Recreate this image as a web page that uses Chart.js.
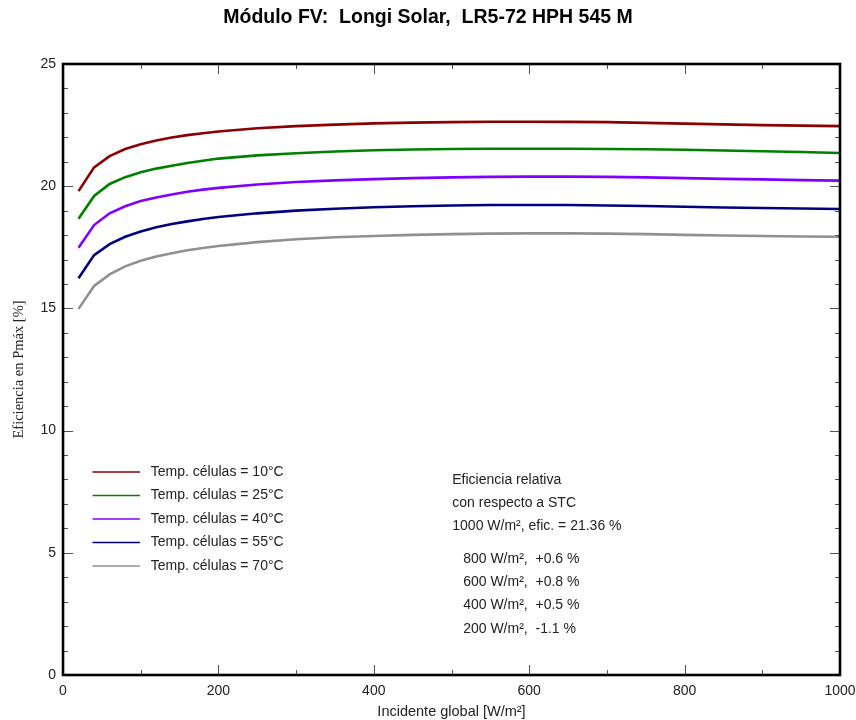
<!DOCTYPE html>
<html>
<head>
<meta charset="utf-8">
<script src="https://cdn.jsdelivr.net/npm/chart.js@4"></script>
<style>
  html, body { margin: 0; padding: 0; background: #fff; }
  #wrap { width: 856px; height: 720px; position: relative; }
</style>
</head>
<body>
<div id="wrap"><canvas id="c" width="856" height="720"></canvas></div>
<script>
// Irradiance (W/m²) at which module efficiency was computed
const irradiance = [20, 40, 60, 80, 100, 120, 140, 160, 180, 200, 250, 300, 350, 400, 450, 500,
                    550, 600, 650, 700, 750, 800, 850, 900, 950, 1000];

// Efficiency at Pmax (%) for each cell temperature
const eff10 = [19.80, 20.77, 21.23, 21.52, 21.72, 21.87, 21.99, 22.09, 22.17, 22.24, 22.37, 22.46, 22.52,
               22.57, 22.60, 22.62, 22.64, 22.64, 22.63, 22.62, 22.59, 22.56, 22.53, 22.50, 22.48, 22.46];
const eff25 = [18.67, 19.60, 20.09, 20.37, 20.57, 20.72, 20.84, 20.95, 21.04, 21.13, 21.26, 21.35, 21.42,
               21.47, 21.50, 21.52, 21.53, 21.53, 21.53, 21.52, 21.51, 21.49, 21.46, 21.43, 21.40, 21.36];
const eff40 = [17.48, 18.41, 18.89, 19.18, 19.39, 19.54, 19.66, 19.77, 19.86, 19.93, 20.07, 20.17, 20.24,
               20.29, 20.33, 20.36, 20.38, 20.39, 20.39, 20.38, 20.36, 20.33, 20.30, 20.28, 20.25, 20.23];
const eff55 = [16.23, 17.18, 17.63, 17.93, 18.15, 18.32, 18.45, 18.56, 18.66, 18.74, 18.89, 19.00, 19.08,
               19.14, 19.18, 19.21, 19.23, 19.23, 19.23, 19.21, 19.19, 19.16, 19.13, 19.11, 19.09, 19.07];
const eff70 = [14.98, 15.92, 16.39, 16.72, 16.95, 17.12, 17.26, 17.38, 17.47, 17.55, 17.71, 17.83, 17.91,
               17.96, 18.01, 18.04, 18.06, 18.07, 18.07, 18.06, 18.04, 18.01, 17.98, 17.96, 17.94, 17.93];

const cellTemps = [10, 25, 40, 55, 70];
const seriesColors = ['#8b0000', '#008000', '#8000ff', '#000080', '#909090'];

// Relative efficiency vs. STC
const stcIrradiance = 1000;
const stcEfficiency = '21.36';
const relIrradiance = [800, 600, 400, 200];
const relChange = ['+0.6', '+0.8', '+0.5', '-1.1'];

const FONT = '"Liberation Sans", Arial, sans-serif';
const SERIF = '"Liberation Serif", "Times New Roman", serif';

const allSeries = [eff10, eff25, eff40, eff55, eff70];
const datasets = allSeries.map((vals, i) => ({
  label: 'Temp. células = ' + cellTemps[i] + '°C',
  data: irradiance.map((x, j) => ({ x: x, y: vals[j] })),
  borderColor: seriesColors[i],
  backgroundColor: seriesColors[i],
  borderWidth: 2.6,
  pointRadius: 0,
  tension: 0,
  fill: false
}));

// Frame, inward tick marks, title, legend and note box
const decorations = {
  id: 'decorations',
  afterDraw(chart) {
    const ctx = chart.ctx;
    const a = chart.chartArea;
    const xs = chart.scales.x, ys = chart.scales.y;
    ctx.save();

    // inward tick marks on all four sides
    ctx.strokeStyle = '#555';
    ctx.lineWidth = 1;
    ctx.beginPath();
    for (let v = 0; v <= 1000; v += 100) {
      const px = Math.round(xs.getPixelForValue(v)) + 0.5;
      const len = (v % 200 === 0) ? 10 : 5;
      ctx.moveTo(px, a.bottom); ctx.lineTo(px, a.bottom - len);
      ctx.moveTo(px, a.top); ctx.lineTo(px, a.top + len);
    }
    for (let v = 0; v <= 25; v += 1) {
      const py = Math.round(ys.getPixelForValue(v)) + 0.5;
      const len = (v % 5 === 0) ? 10 : 5;
      ctx.moveTo(a.left, py); ctx.lineTo(a.left + len, py);
      ctx.moveTo(a.right, py); ctx.lineTo(a.right - len, py);
    }
    ctx.stroke();

    // frame
    ctx.strokeStyle = '#000';
    ctx.lineWidth = 2.6;
    ctx.strokeRect(a.left, a.top, a.right - a.left, a.bottom - a.top);

    // title
    ctx.fillStyle = '#000';
    ctx.font = 'bold 19.5px ' + FONT;
    ctx.textAlign = 'center';
    ctx.textBaseline = 'middle';
    ctx.fillText('Módulo FV:  Longi Solar,  LR5-72 HPH 545 M', 428, 18);

    // legend
    ctx.font = '14px ' + FONT;
    ctx.textAlign = 'left';
    const lx0 = xs.getPixelForValue(38), lx1 = xs.getPixelForValue(99), tx = xs.getPixelForValue(113);
    chart.data.datasets.forEach((ds, i) => {
      const y = 472 + i * 23.5;
      ctx.strokeStyle = ds.borderColor;
      ctx.lineWidth = 1.6;
      ctx.beginPath();
      ctx.moveTo(lx0, y); ctx.lineTo(lx1, y);
      ctx.stroke();
      ctx.fillStyle = '#222';
      ctx.fillText(ds.label, tx, y);
    });

    // relative efficiency note
    const nx = xs.getPixelForValue(501);
    ctx.fillStyle = '#222';
    ctx.fillText('Eficiencia relativa', nx, 480);
    ctx.fillText('con respecto a STC', nx, 503);
    ctx.fillText(stcIrradiance + ' W/m², efic. = ' + stcEfficiency + ' %', nx, 526);
    const rx = xs.getPixelForValue(515);
    relIrradiance.forEach((g, i) => {
      ctx.fillText(g + ' W/m²,  ' + relChange[i] + ' %', rx, 559 + i * 23.3);
    });

    ctx.restore();
  }
};

new Chart(document.getElementById('c'), {
  type: 'line',
  data: { datasets: datasets },
  options: {
    responsive: false,
    animation: false,
    devicePixelRatio: 1,
    layout: { padding: { left: 0, right: 16, top: 64, bottom: 0 } },
    plugins: {
      legend: { display: false },
      title: { display: false },
      tooltip: { enabled: false }
    },
    scales: {
      x: {
        type: 'linear',
        min: 0, max: 1000,
        afterFit(scale) { scale.height = 45; scale.paddingRight = 0; scale.paddingLeft = 0; },
        grid: { display: false, drawTicks: false },
        border: { display: false },
        ticks: { stepSize: 200, padding: 8, color: '#222', font: { family: FONT, size: 14 }, maxRotation: 0,
                 callback: (v) => String(v) },
        title: { display: true, text: 'Incidente global [W/m²]', color: '#222',
                 font: { family: FONT, size: 14.5 }, padding: { top: 0, bottom: -1 } }
      },
      y: {
        type: 'linear',
        min: 0, max: 25,
        afterFit(scale) { scale.width = 63; scale.paddingTop = 0; scale.paddingBottom = 0; },
        grid: { display: false, drawTicks: false },
        border: { display: false },
        ticks: { stepSize: 5, padding: 7, color: '#222', font: { family: FONT, size: 14 } },
        title: { display: true, text: 'Eficiencia en Pmáx [%]', color: '#222',
                 font: { family: SERIF, size: 14.5 }, padding: { top: 10, bottom: 0 } }
      }
    }
  },
  plugins: [decorations]
});
</script>
</body>
</html>
